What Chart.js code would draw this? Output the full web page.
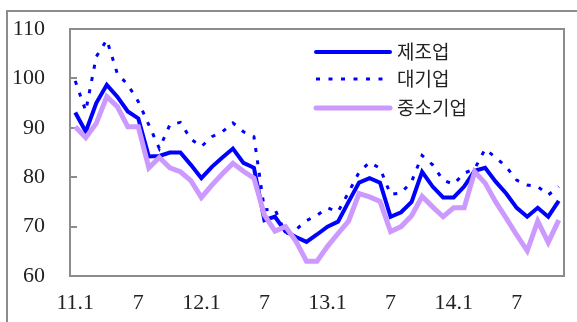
<!DOCTYPE html>
<html lang="ko">
<head>
    <meta charset="UTF-8">
    <title>제조업 / 대기업 / 중소기업</title>
    <script src="https://cdn.jsdelivr.net/npm/chart.js"></script>
    <style>
        body {
            margin: 0;
            background: #fff;
        }
        #wrap {
            width: 577px;
            height: 322px;
        }
    </style>
</head>
<body>
<div id="wrap"><canvas id="myChart" width="577" height="322"></canvas></div>
<script>
    // months 2011.1 - 2014.11
    const categories = [
        '11.1', '11.2', '11.3', '11.4', '11.5', '11.6', '11.7', '11.8', '11.9', '11.10', '11.11', '11.12',
        '12.1', '12.2', '12.3', '12.4', '12.5', '12.6', '12.7', '12.8', '12.9', '12.10', '12.11', '12.12',
        '13.1', '13.2', '13.3', '13.4', '13.5', '13.6', '13.7', '13.8', '13.9', '13.10', '13.11', '13.12',
        '14.1', '14.2', '14.3', '14.4', '14.5', '14.6', '14.7', '14.8', '14.9', '14.10', '14.11'
    ];
    const tickLabels = ['11.1', '7', '12.1', '7', '13.1', '7', '14.1', '7'];
    const yTicks = [60, 70, 80, 90, 100, 110];

    const manufacturing = [
        93.1, 89.2, 95.0, 98.7, 96.3, 93.3, 91.9, 84.2, 84.3, 85.0, 85.0, 82.5,
        79.8, 82.1, 84.0, 85.8, 82.9, 81.9, 71.3, 72.0, 69.0, 67.9, 66.9, 68.4,
        70.0, 71.0, 75.0, 78.9, 79.8, 78.9, 72.0, 72.9, 75.0, 81.1, 78.1, 75.9,
        75.9, 78.1, 81.3, 81.9, 79.1, 76.7, 73.8, 72.0, 73.8, 72.0, 75.2
    ];
    const large = [
        99.5, 93.4, 104.4, 107.8, 101.0, 98.7, 95.3, 90.6, 85.8, 90.6, 91.1, 87.7,
        86.2, 88.2, 89.2, 91.0, 89.2, 88.2, 73.4, 73.5, 68.6, 69.4, 71.2, 72.3,
        73.8, 73.0, 76.9, 81.0, 83.0, 81.8, 76.5, 76.8, 79.1, 84.4, 82.5, 79.4,
        78.6, 80.8, 81.7, 85.7, 84.0, 82.1, 79.4, 78.4, 78.1, 76.4, 78.1
    ];
    const small = [
        90.2, 88.0, 90.9, 96.3, 94.3, 90.2, 90.2, 81.9, 84.0, 81.9, 81.1, 79.3,
        75.9, 78.4, 80.7, 82.8, 81.2, 79.8, 72.3, 69.1, 70.0, 67.0, 63.0, 63.0,
        66.0, 68.6, 71.1, 76.7, 76.0, 75.1, 69.0, 70.0, 72.2, 76.1, 74.0, 72.0,
        73.8, 73.8, 81.1, 78.8, 75.0, 71.7, 68.3, 65.1, 71.1, 66.8, 71.3
    ];

    const serif = '"Liberation Serif", "DejaVu Serif", serif';
    const kor = '"Noto Sans CJK KR", "Noto Sans", sans-serif';

    // outer frame, plot border and inward y ticks
    const framePlugin = {
        id: 'frame',
        beforeDraw(chart) {
            const ctx = chart.ctx;
            ctx.save();
            ctx.fillStyle = '#fff';
            ctx.fillRect(0, 0, chart.width, chart.height);
            ctx.strokeStyle = '#8c8c8c';
            ctx.lineWidth = 2;
            ctx.strokeRect(7, 11, 700, 500);
            ctx.restore();
        },
        beforeDatasetsDraw(chart) {
            const ctx = chart.ctx;
            const a = chart.chartArea;
            const y = chart.scales.y;
            ctx.save();
            ctx.strokeStyle = '#8c8c8c';
            ctx.lineWidth = 2;
            ctx.strokeRect(a.left, a.top, a.right - a.left, a.bottom - a.top);
            yTicks.forEach(v => {
                const py = Math.round(y.getPixelForValue(v));
                ctx.beginPath();
                ctx.moveTo(a.left, py);
                ctx.lineTo(a.left + 7, py);
                ctx.stroke();
            });
            ctx.restore();
        }
    };

    const legendPlugin = {
        id: 'boxLegend',
        afterDatasetsDraw(chart) {
            const ctx = chart.ctx;
            const rows = [52, 79, 108];
            ctx.save();
            chart.data.datasets.forEach((ds, i) => {
                const yy = rows[i];
                ctx.beginPath();
                ctx.strokeStyle = ds.borderColor;
                ctx.lineWidth = ds.borderWidth;
                ctx.lineCap = ds.borderDash.length ? 'butt' : 'round';
                ctx.setLineDash(ds.borderDash);
                ctx.moveTo(316, yy);
                ctx.lineTo(390, yy);
                ctx.stroke();
                ctx.setLineDash([]);
                ctx.fillStyle = '#222';
                ctx.font = '19px ' + kor;
                ctx.textBaseline = 'middle';
                ctx.textAlign = 'left';
                ctx.fillText(ds.label, 397, yy);
            });
            ctx.restore();
        }
    };

    const ctx = document.getElementById('myChart').getContext('2d');
    new Chart(ctx, {
        type: 'line',
        data: {
            labels: categories,
            datasets: [
                {
                    label: '제조업',
                    data: manufacturing,
                    borderColor: '#0000ff',
                    borderWidth: 4,
                    borderDash: [],
                    order: 2
                },
                {
                    label: '대기업',
                    data: large,
                    borderColor: '#0000ff',
                    borderWidth: 3,
                    borderDash: [4, 8.5],
                    order: 1
                },
                {
                    label: '중소기업',
                    data: small,
                    borderColor: '#cc99ff',
                    borderWidth: 5,
                    borderDash: [],
                    order: 0
                }
            ]
        },
        options: {
            responsive: false,
            animation: false,
            devicePixelRatio: 1,
            layout: { padding: { left: 0, top: 29, right: 13, bottom: 0 } },
            elements: {
                point: { radius: 0 },
                line: { tension: 0, borderJoinStyle: 'miter', borderCapStyle: 'butt' }
            },
            plugins: {
                legend: { display: false },
                tooltip: { enabled: false }
            },
            scales: {
                x: {
                    offset: true,
                    grid: { display: false, drawTicks: false },
                    border: { display: false },
                    afterFit(s) {
                        s.height = 46;
                        s.paddingLeft = 0;
                        s.paddingRight = 0;
                    },
                    ticks: {
                        autoSkip: false,
                        maxRotation: 0,
                        padding: 14,
                        color: '#222',
                        font: { family: serif, size: 22 },
                        callback: (v, i) => (i % 6 === 0 ? tickLabels[i / 6] : '')
                    }
                },
                y: {
                    min: 60,
                    max: 110,
                    grid: { display: false, drawTicks: false },
                    border: { display: false },
                    afterFit(s) {
                        s.width = 70;
                        s.paddingTop = 0;
                        s.paddingBottom = 0;
                    },
                    ticks: {
                        stepSize: 10,
                        padding: 25,
                        color: '#222',
                        font: { family: serif, size: 22 }
                    }
                }
            }
        },
        plugins: [framePlugin, legendPlugin]
    });
</script>
</body>
</html>
